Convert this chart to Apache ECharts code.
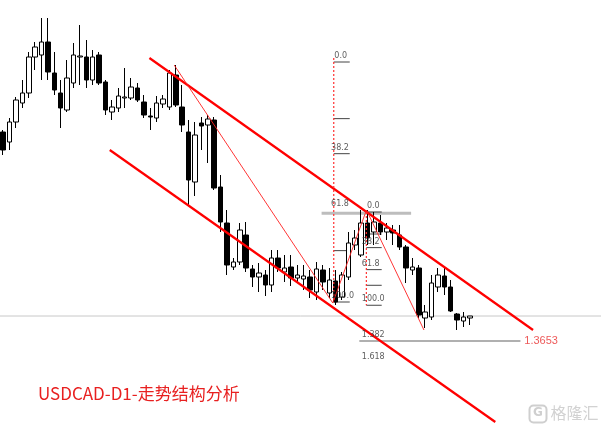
<!DOCTYPE html>
<html><head><meta charset="utf-8">
<script src="https://cdn.jsdelivr.net/npm/echarts@6/dist/echarts.min.js"></script>
<style>html,body{margin:0;padding:0;background:#fff}#c{width:601px;height:433px}</style>
</head><body><div id="c"></div>
<script>
// OHLC (open, close, low, high)
const opens  = [1.4489,1.4449,1.4529,1.4605,1.4645,1.4789,1.4797,1.4849,1.4725,1.4645,1.4577,1.4685,1.4789,1.4789,1.4697,1.4797,1.4689,1.4569,1.4585,1.4625,1.4625,1.4665,1.4609,1.4553,1.4545,1.4601,1.4589,1.4717,1.4589,1.4489,1.4289,1.4525,1.4517,1.4537,1.4269,1.4125,1.3949,1.3969,1.4077,1.3941,1.3909,1.3917,1.3877,1.3985,1.3929,1.3949,1.3905,1.3901,1.3909,1.3849,1.3937,1.3845,1.3893,1.3829,1.3909,1.4037,1.3997,1.4125,1.4089,1.4125,1.4089,1.4097,1.4077,1.4029,1.3937,1.3945,1.3745,1.3749,1.3869,1.3913,1.3869,1.3761,1.3733,1.3745];
const closes = [1.4417,1.4529,1.4617,1.4645,1.4789,1.4829,1.4849,1.4729,1.4657,1.4585,1.4705,1.4797,1.4793,1.4697,1.4789,1.4685,1.4577,1.4589,1.4633,1.4629,1.4669,1.4617,1.4557,1.4549,1.4605,1.4621,1.4725,1.4597,1.4517,1.4297,1.4477,1.4513,1.4541,1.4265,1.4129,1.3957,1.3969,1.4097,1.3945,1.3909,1.3925,1.3877,1.3985,1.3945,1.3945,1.3905,1.3917,1.3913,1.3857,1.3941,1.3889,1.3897,1.3809,1.3917,1.4045,1.4065,1.4125,1.4065,1.4129,1.4089,1.4105,1.4085,1.4029,1.3945,1.3949,1.3757,1.3769,1.3885,1.3917,1.3869,1.3773,1.3737,1.3749,1.3753];
const highs  = [1.4497,1.4545,1.4629,1.4697,1.4809,1.4849,1.4945,1.4945,1.4809,1.4697,1.4777,1.4845,1.4917,1.4857,1.4817,1.4809,1.4697,1.4617,1.4665,1.4745,1.4705,1.4685,1.4637,1.4585,1.4633,1.4637,1.4737,1.4757,1.4677,1.4537,1.4529,1.4549,1.4557,1.4549,1.4317,1.4177,1.3985,1.4125,1.4129,1.3957,1.3965,1.3937,1.4017,1.4017,1.3997,1.3997,1.3957,1.3957,1.3937,1.3969,1.3957,1.3945,1.3937,1.3929,1.4089,1.4097,1.4177,1.4177,1.4169,1.4157,1.4125,1.4117,1.4117,1.4037,1.3985,1.3957,1.3797,1.3917,1.3945,1.3949,1.3897,1.3765,1.3769,1.3753];
const lows   = [1.4397,1.4417,1.4505,1.4585,1.4625,1.4737,1.4697,1.4697,1.4637,1.4505,1.4569,1.4665,1.4677,1.4665,1.4677,1.4677,1.4557,1.4537,1.4569,1.4585,1.4617,1.4609,1.4545,1.4497,1.4529,1.4585,1.4577,1.4589,1.4489,1.4197,1.4233,1.4417,1.4365,1.4257,1.4089,1.3917,1.3937,1.3957,1.3929,1.3869,1.3849,1.3833,1.3849,1.3929,1.3889,1.3873,1.3889,1.3857,1.3825,1.3817,1.3857,1.3825,1.3797,1.3817,1.3897,1.4017,1.3989,1.4037,1.4037,1.4077,1.4057,1.4037,1.4017,1.3885,1.3917,1.3745,1.3705,1.3737,1.3849,1.3837,1.3769,1.3697,1.3709,1.3717];
const categories = Array.from({length: 94}, (_, i) => 'D' + (i + 1));

// annotation geometry in (bar index, price)
const upperChannel = [[22.87, 1.4785], [82.87, 1.3697]];
const lowerChannel = [[16.67, 1.4417], [76.97, 1.3329]];
const zigzag = [[26.74, 1.4757], [51.55, 1.3805], [56.82, 1.4177], [65.81, 1.3697]];
const fib1 = {x: 51.7, p0: 1.4769, p100: 1.3809, levels: [0, 0.236, 0.382, 0.618, 0.786, 1], labels: ['0.0', '', '38.2', '61.8', '', '100.0']};
const fib2 = {x: 56.8, p0: 1.4169, p100: 1.3796, levels: [0, 0.236, 0.382, 0.618, 0.786, 1, 1.382, 1.618], labels: ['0.0', '', '38.2', '61.8', '', '100.0', '1.382', '1.618']};
const targetPrice = 1.3653;
const lastPrice = 1.3753;
const title = 'USDCAD-D1-走势结构分析';

const series = [];
series.push({
  type: 'candlestick', xAxisIndex: 0, yAxisIndex: 0, barWidth: 5,
  data: opens.map((o, i) => [o, closes[i], lows[i], highs[i]]),
  itemStyle: {color: '#fff', color0: '#000', borderColor: '#000', borderColor0: '#000', borderWidth: 1},
  silent: true, z: 3
});
function seg(pts, color, width, type, z) {
  series.push({type: 'line', xAxisIndex: 1, yAxisIndex: 0, data: pts, symbol: 'none', silent: true, z: z || 4,
    lineStyle: {color, width, type: type || 'solid'}, animation: false});
}
seg([[-0.5, lastPrice], [93.5, lastPrice]], '#c8c8c8', 1, 'solid', 1);
seg(upperChannel, '#ff0000', 2.2);
seg(lowerChannel, '#ff0000', 2.2);
seg(zigzag, '#ff2020', 0.9);
const pr = (f, l) => f.p0 + (f.p100 - f.p0) * l;
seg([[fib1.x, pr(fib1, 0) + 0.0016], [fib1.x, pr(fib1, 1)]], '#ff3030', 1.2, [2, 2]);
seg([[fib2.x, pr(fib2, 0)], [fib2.x, pr(fib2, 1)]], '#ff3030', 1.2, [2, 2]);
seg([[49.8, pr(fib1, 0.618) - 0.0012], [63.8, pr(fib1, 0.618) - 0.0012]], '#bdbdbd', 3, 'solid', 2);
seg([[55.7, targetPrice], [80.9, targetPrice]], '#b0b0b0', 2, 'solid', 2);
const labelData = [];
fib1.levels.forEach((l, i) => {
  if (l === 0.618) return;
  seg([[fib1.x, pr(fib1, l)], [fib1.x + 2.5, pr(fib1, l)]], '#444', 1, 'solid', 2);
});
fib1.labels.forEach((t, i) => { if (t) labelData.push([fib1.x + (t.length > 3 ? -0.1 : 0.4), pr(fib1, fib1.levels[i]), t]); });
fib2.levels.forEach((l, i) => {
  if (l >= 1.382) return;
  seg([[fib2.x, pr(fib2, l)], [fib2.x + 2.4, pr(fib2, l)]], '#444', 1, 'solid', 2);
});
fib2.labels.forEach((t, i) => { if (t) labelData.push([fib2.x - 0.4 + (t.length === 3 ? 0.8 : 0), pr(fib2, fib2.levels[i]), t]); });
series.push({type: 'scatter', xAxisIndex: 1, yAxisIndex: 0, symbolSize: 0, silent: true, z: 6,
  data: labelData,
  label: {show: true, position: 'right', distance: 0, offset: [-2, -6], formatter: p => p.data[2],
    fontSize: 8, fontFamily: 'DejaVu Sans', color: '#333'}});
series.push({type: 'scatter', xAxisIndex: 1, yAxisIndex: 0, symbolSize: 0, silent: true, z: 6,
  data: [[81.5, targetPrice, targetPrice.toFixed(4)]],
  label: {show: true, position: 'right', distance: 0, formatter: p => p.data[2],
    fontSize: 11, fontFamily: 'Liberation Sans', color: '#e83030'}});

const chart = echarts.init(document.getElementById('c'), null, {renderer: 'canvas'});
chart.setOption({
  animation: false,
  backgroundColor: '#fff',
  grid: {left: -2.7, right: -2.6, top: 0, bottom: 0, containLabel: false},
  xAxis: [
    {type: 'category', data: categories, boundaryGap: true, show: false},
    {type: 'value', min: -0.5, max: 93.5, show: false}
  ],
  yAxis: [{type: 'value', min: 1.3285, max: 1.5017, show: false, scale: true}],
  series,
  graphic: [
    {type: 'text', left: 38, top: 385, style: {text: title, fill: '#e82020', font: '17px "Noto Sans CJK SC"'}},
    {type: 'group', left: 527, top: 403, children: [
      {type: 'rect', shape: {x: 0, y: 0, width: 17, height: 17, r: 4}, style: {fill: 'none', stroke: '#cfcfcf', lineWidth: 2}},
      {type: 'text', x: 3.5, y: 1.5, style: {text: 'G', fill: '#cfcfcf', font: 'bold 12px "DejaVu Sans"'}},
      {type: 'text', x: 21, y: -1, style: {text: '格隆汇', fill: '#d2d2d2', font: '16px "Noto Sans CJK SC"'}}
    ]}
  ]
});
</script></body></html>
